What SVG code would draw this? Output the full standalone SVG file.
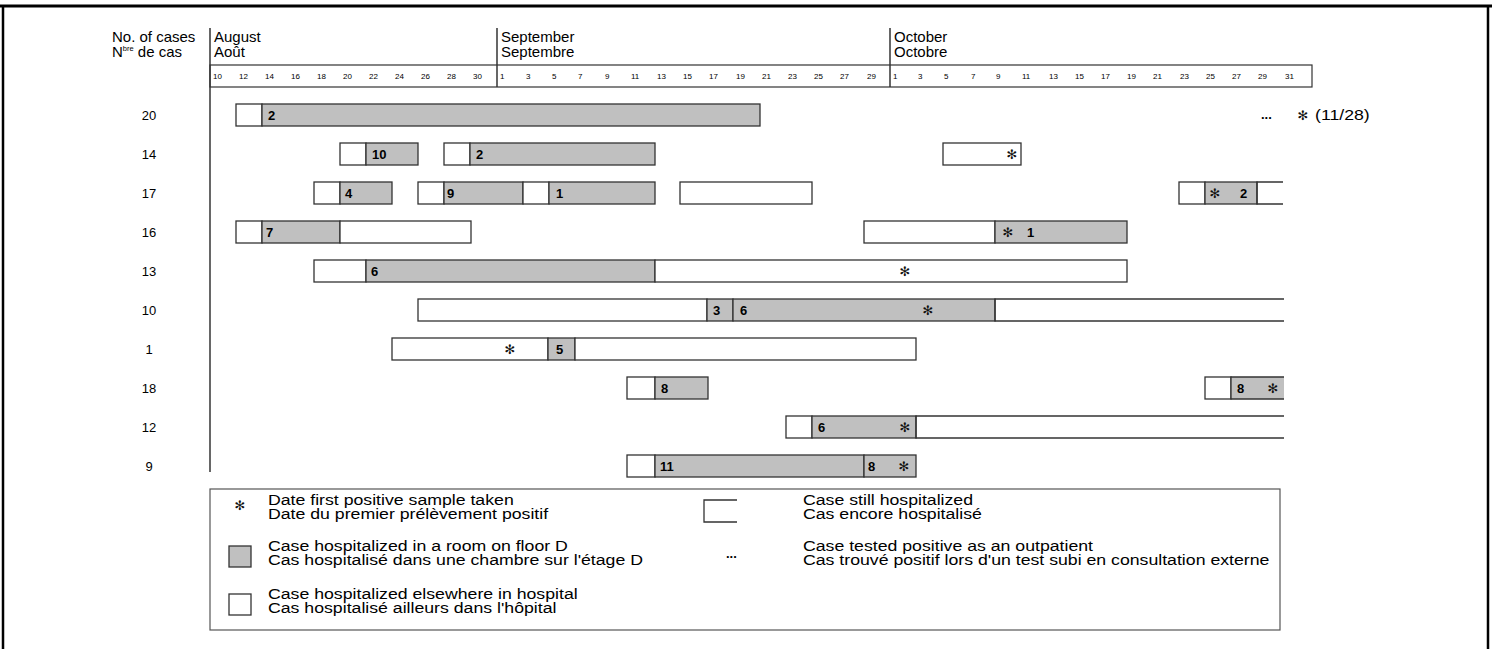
<svg xmlns="http://www.w3.org/2000/svg" width="1492" height="649" viewBox="0 0 1492 649">
<style>
text{font-family:"Liberation Sans",Arial,sans-serif;fill:#000}
.hd{font-size:15px}
.day{font-size:8px}
.row{font-size:13px;text-anchor:middle}
.lb{font-size:13px;font-weight:bold}
.st{font-family:"DejaVu Sans",sans-serif;font-size:13px;text-anchor:middle;fill:#111}
.lg{font-size:15px}
.w{fill:#fff;stroke:#333;stroke-width:1.3}
.g{fill:#c0c0c0;stroke:#333;stroke-width:1.3}
.gn{fill:#c0c0c0;stroke:none}
.op{fill:none;stroke:#333;stroke-width:1.3}
.ax{stroke:#000;stroke-width:1.2;fill:none}
</style>
<rect width="1492" height="649" fill="#fff"/>
<g id="frame">
<line x1="0" y1="6" x2="1492" y2="6" stroke="#000" stroke-width="3"/>
<line x1="3" y1="5" x2="3" y2="649" stroke="#000" stroke-width="2.5"/>
<line x1="1488" y1="5" x2="1488" y2="649" stroke="#000" stroke-width="2.5"/>
</g>
<g id="axis">
<text class="hd" x="112" y="42">No. of cases</text>
<text class="hd" x="112" y="57">N<tspan font-size="7.5" dy="-6">bre</tspan><tspan dy="6"> de cas</tspan></text>
<line class="ax" x1="210" y1="28" x2="210" y2="472"/>
<line class="ax" x1="497" y1="28" x2="497" y2="87"/>
<line class="ax" x1="890" y1="28" x2="890" y2="87"/>
<text class="hd" x="214" y="42">August</text>
<text class="hd" x="214" y="57">Août</text>
<text class="hd" x="501" y="42">September</text>
<text class="hd" x="501" y="57">Septembre</text>
<text class="hd" x="894" y="42">October</text>
<text class="hd" x="894" y="57">Octobre</text>
<rect x="210" y="65" width="1102" height="22" fill="none" stroke="#333" stroke-width="1.2"/>
<g class="day">
<text x="213" y="79">10</text><text x="239" y="79">12</text><text x="265" y="79">14</text><text x="291" y="79">16</text><text x="317" y="79">18</text><text x="343" y="79">20</text><text x="369" y="79">22</text><text x="395" y="79">24</text><text x="421" y="79">26</text><text x="447" y="79">28</text><text x="473" y="79">30</text>
<text x="500" y="79">1</text><text x="526" y="79">3</text><text x="552" y="79">5</text><text x="578" y="79">7</text><text x="605" y="79">9</text><text x="631" y="79">11</text><text x="657" y="79">13</text><text x="683" y="79">15</text><text x="709" y="79">17</text><text x="736" y="79">19</text><text x="762" y="79">21</text><text x="788" y="79">23</text><text x="814" y="79">25</text><text x="840" y="79">27</text><text x="867" y="79">29</text>
<text x="893" y="79">1</text><text x="918" y="79">3</text><text x="944" y="79">5</text><text x="971" y="79">7</text><text x="996" y="79">9</text><text x="1022" y="79">11</text><text x="1049" y="79">13</text><text x="1075" y="79">15</text><text x="1101" y="79">17</text><text x="1127" y="79">19</text><text x="1153" y="79">21</text><text x="1180" y="79">23</text><text x="1206" y="79">25</text><text x="1232" y="79">27</text><text x="1258" y="79">29</text><text x="1285" y="79">31</text>
</g>
</g>
<g id="row-labels">
<text class="row" x="149" y="120">20</text>
<text class="row" x="149" y="159">14</text>
<text class="row" x="149" y="198">17</text>
<text class="row" x="149" y="237">16</text>
<text class="row" x="149" y="276">13</text>
<text class="row" x="149" y="315">10</text>
<text class="row" x="149" y="354">1</text>
<text class="row" x="149" y="393">18</text>
<text class="row" x="149" y="432">12</text>
<text class="row" x="149" y="471">9</text>
</g>
<g id="case20">
<rect class="w" x="236" y="104" width="26" height="22"/>
<rect class="g" x="262" y="104" width="498" height="22"/>
<text class="lb" x="268" y="120">2</text>
<text class="lb" x="1261" y="119">...</text>
<text class="st" x="1303" y="120">✻</text>
<text class="lg" transform="translate(1315,120) scale(1.18,1)">(11/28)</text>
</g>
<g id="case14">
<rect class="w" x="340" y="143" width="26" height="22"/>
<rect class="g" x="366" y="143" width="52" height="22"/>
<text class="lb" x="372" y="159">10</text>
<rect class="w" x="444" y="143" width="26" height="22"/>
<rect class="g" x="470" y="143" width="185" height="22"/>
<text class="lb" x="476" y="159">2</text>
<rect class="w" x="943" y="143" width="78" height="22"/>
<text class="st" x="1012" y="159">✻</text>
</g>
<g id="case17">
<rect class="w" x="314" y="182" width="26" height="22"/>
<rect class="g" x="340" y="182" width="52" height="22"/>
<text class="lb" x="345" y="198">4</text>
<rect class="w" x="418" y="182" width="26" height="22"/>
<rect class="g" x="444" y="182" width="79" height="22"/>
<text class="lb" x="447" y="198">9</text>
<rect class="w" x="523" y="182" width="26" height="22"/>
<rect class="g" x="549" y="182" width="106" height="22"/>
<text class="lb" x="556" y="198">1</text>
<rect class="w" x="680" y="182" width="132" height="22"/>
<rect class="w" x="1179" y="182" width="26" height="22"/>
<rect class="g" x="1205" y="182" width="52" height="22"/>
<text class="st" x="1215" y="198">✻</text>
<text class="lb" x="1240" y="198">2</text>
<path class="op" d="M1283 182H1257V204H1283"/>
</g>
<g id="case16">
<rect class="w" x="236" y="221" width="26" height="22"/>
<rect class="g" x="262" y="221" width="78" height="22"/>
<text class="lb" x="266" y="237">7</text>
<rect class="w" x="340" y="221" width="131" height="22"/>
<rect class="w" x="864" y="221" width="131" height="22"/>
<rect class="g" x="995" y="221" width="132" height="22"/>
<text class="st" x="1008" y="237">✻</text>
<text class="lb" x="1027" y="237">1</text>
</g>
<g id="case13">
<rect class="w" x="314" y="260" width="52" height="22"/>
<rect class="g" x="366" y="260" width="289" height="22"/>
<text class="lb" x="371" y="276">6</text>
<rect class="w" x="655" y="260" width="472" height="22"/>
<text class="st" x="905" y="276">✻</text>
</g>
<g id="case10">
<rect class="w" x="418" y="299" width="289" height="22"/>
<rect class="g" x="707" y="299" width="26" height="22"/>
<text class="lb" x="713" y="315">3</text>
<rect class="g" x="733" y="299" width="262" height="22"/>
<text class="lb" x="740" y="315">6</text>
<text class="st" x="928" y="315">✻</text>
<path class="op" d="M1284 299H995V321H1284"/>
</g>
<g id="case1">
<rect class="w" x="392" y="338" width="156" height="22"/>
<text class="st" x="510" y="354">✻</text>
<rect class="g" x="548" y="338" width="27" height="22"/>
<text class="lb" x="556" y="354">5</text>
<rect class="w" x="575" y="338" width="341" height="22"/>
</g>
<g id="case18">
<rect class="w" x="627" y="377" width="28" height="22"/>
<rect class="g" x="655" y="377" width="53" height="22"/>
<text class="lb" x="661" y="393">8</text>
<rect class="w" x="1205" y="377" width="26" height="22"/>
<rect class="gn" x="1231" y="377" width="53" height="22"/>
<path class="op" d="M1284 377H1231V399H1284"/>
<text class="lb" x="1237" y="393">8</text>
<text class="st" x="1273" y="393">✻</text>
</g>
<g id="case12">
<rect class="w" x="786" y="416" width="26" height="22"/>
<rect class="g" x="812" y="416" width="104" height="22"/>
<text class="lb" x="818" y="432">6</text>
<text class="st" x="905" y="432">✻</text>
<path class="op" d="M1284 416H916V438H1284"/>
</g>
<g id="case9">
<rect class="w" x="627" y="455" width="28" height="22"/>
<rect class="g" x="655" y="455" width="209" height="22"/>
<text class="lb" x="660" y="471">11</text>
<rect class="g" x="864" y="455" width="52" height="22"/>
<text class="lb" x="868" y="471">8</text>
<text class="st" x="904" y="471">✻</text>
</g>
<g id="legend">
<rect x="210" y="489" width="1070" height="141" fill="#fff" stroke="#555" stroke-width="1.2"/>
<text class="st" x="240" y="510">✻</text>
<rect class="g" x="229" y="546" width="22" height="21"/>
<rect class="w" x="229" y="594" width="22" height="21"/>
<path class="op" d="M737 500H704V522H737"/>
<text class="lb" x="726" y="558">...</text>
<g transform="translate(268,0) scale(1.18,1)">
<text class="lg" x="0" y="505">Date first positive sample taken</text>
<text class="lg" x="0" y="519">Date du premier prélèvement positif</text>
<text class="lg" x="0" y="551">Case hospitalized in a room on floor D</text>
<text class="lg" x="0" y="565">Cas hospitalisé dans une chambre sur l'étage D</text>
<text class="lg" x="0" y="599">Case hospitalized elsewhere in hospital</text>
<text class="lg" x="0" y="613">Cas hospitalisé ailleurs dans l'hôpital</text>
</g>
<g transform="translate(803,0) scale(1.18,1)">
<text class="lg" x="0" y="505">Case still hospitalized</text>
<text class="lg" x="0" y="519">Cas encore hospitalisé</text>
<text class="lg" x="0" y="551">Case tested positive as an outpatient</text>
<text class="lg" x="0" y="565">Cas trouvé positif lors d'un test subi en consultation externe</text>
</g>
</g>
</svg>
